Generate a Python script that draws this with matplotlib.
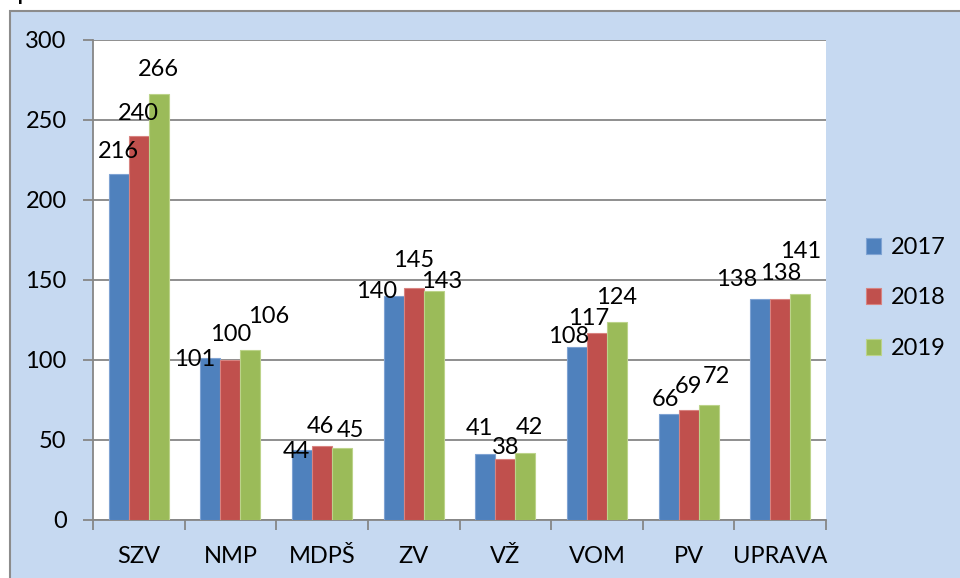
import numpy as np
import matplotlib.pyplot as plt
from matplotlib.patches import Rectangle

categories = ['SZV', 'NMP', 'MDPŠ', 'ZV', 'VŽ', 'VOM', 'PV', 'UPRAVA']
years = ['2017', '2018', '2019']
v2017 = [216, 101, 44, 140, 41, 108, 66, 138]
v2018 = [240, 100, 46, 145, 38, 117, 69, 138]
v2019 = [266, 106, 45, 143, 42, 124, 72, 141]
colors = ['#4F81BD', '#C0504D', '#9BBB59']
edges = ['#7FA3D3', '#D88380', '#BCD38A']

# hand-moved data labels: shift (px) of label centre from bar centre / bar top
dx2017 = [0, -16, -6, -17, -6, -8, -3, -24]
dy2017 = [24, 0, 0, 6, 27, 12, 16, 21]
dx2018 = [0, 0, -2, 0, 0, -8, 0, 0]
dy2018 = [24, 27, 21, 29, 13, 16, 25, 27]
dx2019 = [0, 18, 8, 8, 4, 0, 8, 0]
dy2019 = [26, 35, 19, 11, 27, 26, 30, 44]

plt.rcParams['font.family'] = ['Lato', 'DejaVu Sans']
fs = 17

W, H = 960, 578
fig = plt.figure(figsize=(W/100, H/100), dpi=100)
fig.patch.set_facecolor('white')

# chart area background with border
fig.patches.append(Rectangle((10/W, -0.01), 1.0, 1 - 11/H + 0.01, transform=fig.transFigure,
                             facecolor='#C6D9F1', edgecolor='#8C8C8C', linewidth=1.5, zorder=-10))
fig.text(17/W, 1 + 1/H, 'p', fontsize=20, color='black', va='baseline', ha='left')

ax = fig.add_axes([93/W, (H-520)/H, (826-93)/W, 480/H])
ax.set_facecolor('white')

x = np.arange(len(categories))
bw = 0.218
series = [(v2017, dx2017, dy2017), (v2018, dx2018, dy2018), (v2019, dx2019, dy2019)]
for i, ((vals, dxs, dys), c, e) in enumerate(zip(series, colors, edges)):
    pos = x + (i - 1) * bw
    ax.bar(pos, vals, width=bw, color=c, edgecolor=e, linewidth=0.8, label=years[i], zorder=3)
    for p, v, ddx, ddy in zip(pos, vals, dxs, dys):
        ax.annotate(str(v), (p, v), xytext=(ddx * 0.72, (ddy - 8) * 0.72), textcoords='offset points',
                    ha='center', va='baseline', fontsize=fs, zorder=4)

ax.set_xlim(-0.5, len(categories) - 0.5)
ax.set_ylim(0, 300)
ax.set_yticks(np.arange(0, 301, 50))
ax.grid(axis='y', color='#868686', linewidth=1.3, zorder=1)
ax.tick_params(axis='y', length=7, width=1.3, color='#868686', labelsize=fs, pad=12)

ax.set_xticks(np.arange(-0.5, len(categories)), labels=[''] * (len(categories) + 1))
ax.set_xticks(x, labels=categories, minor=True)
ax.tick_params(axis='x', which='major', length=7, width=1.3, color='#868686')
ax.tick_params(axis='x', which='minor', length=0, labelsize=fs, pad=19)

for s in ['top', 'right']:
    ax.spines[s].set_visible(False)
for s in ['left', 'bottom']:
    ax.spines[s].set_color('#868686')
    ax.spines[s].set_linewidth(1.3)

ax.legend(loc='center left', bbox_to_anchor=(866/W, 1 - 298/H), bbox_transform=fig.transFigure,
          frameon=False, fontsize=fs, handlelength=0.65, handleheight=0.65,
          labelspacing=1.25, handletextpad=0.4, borderpad=0, borderaxespad=0)

fig.savefig('out.png', dpi=100)
